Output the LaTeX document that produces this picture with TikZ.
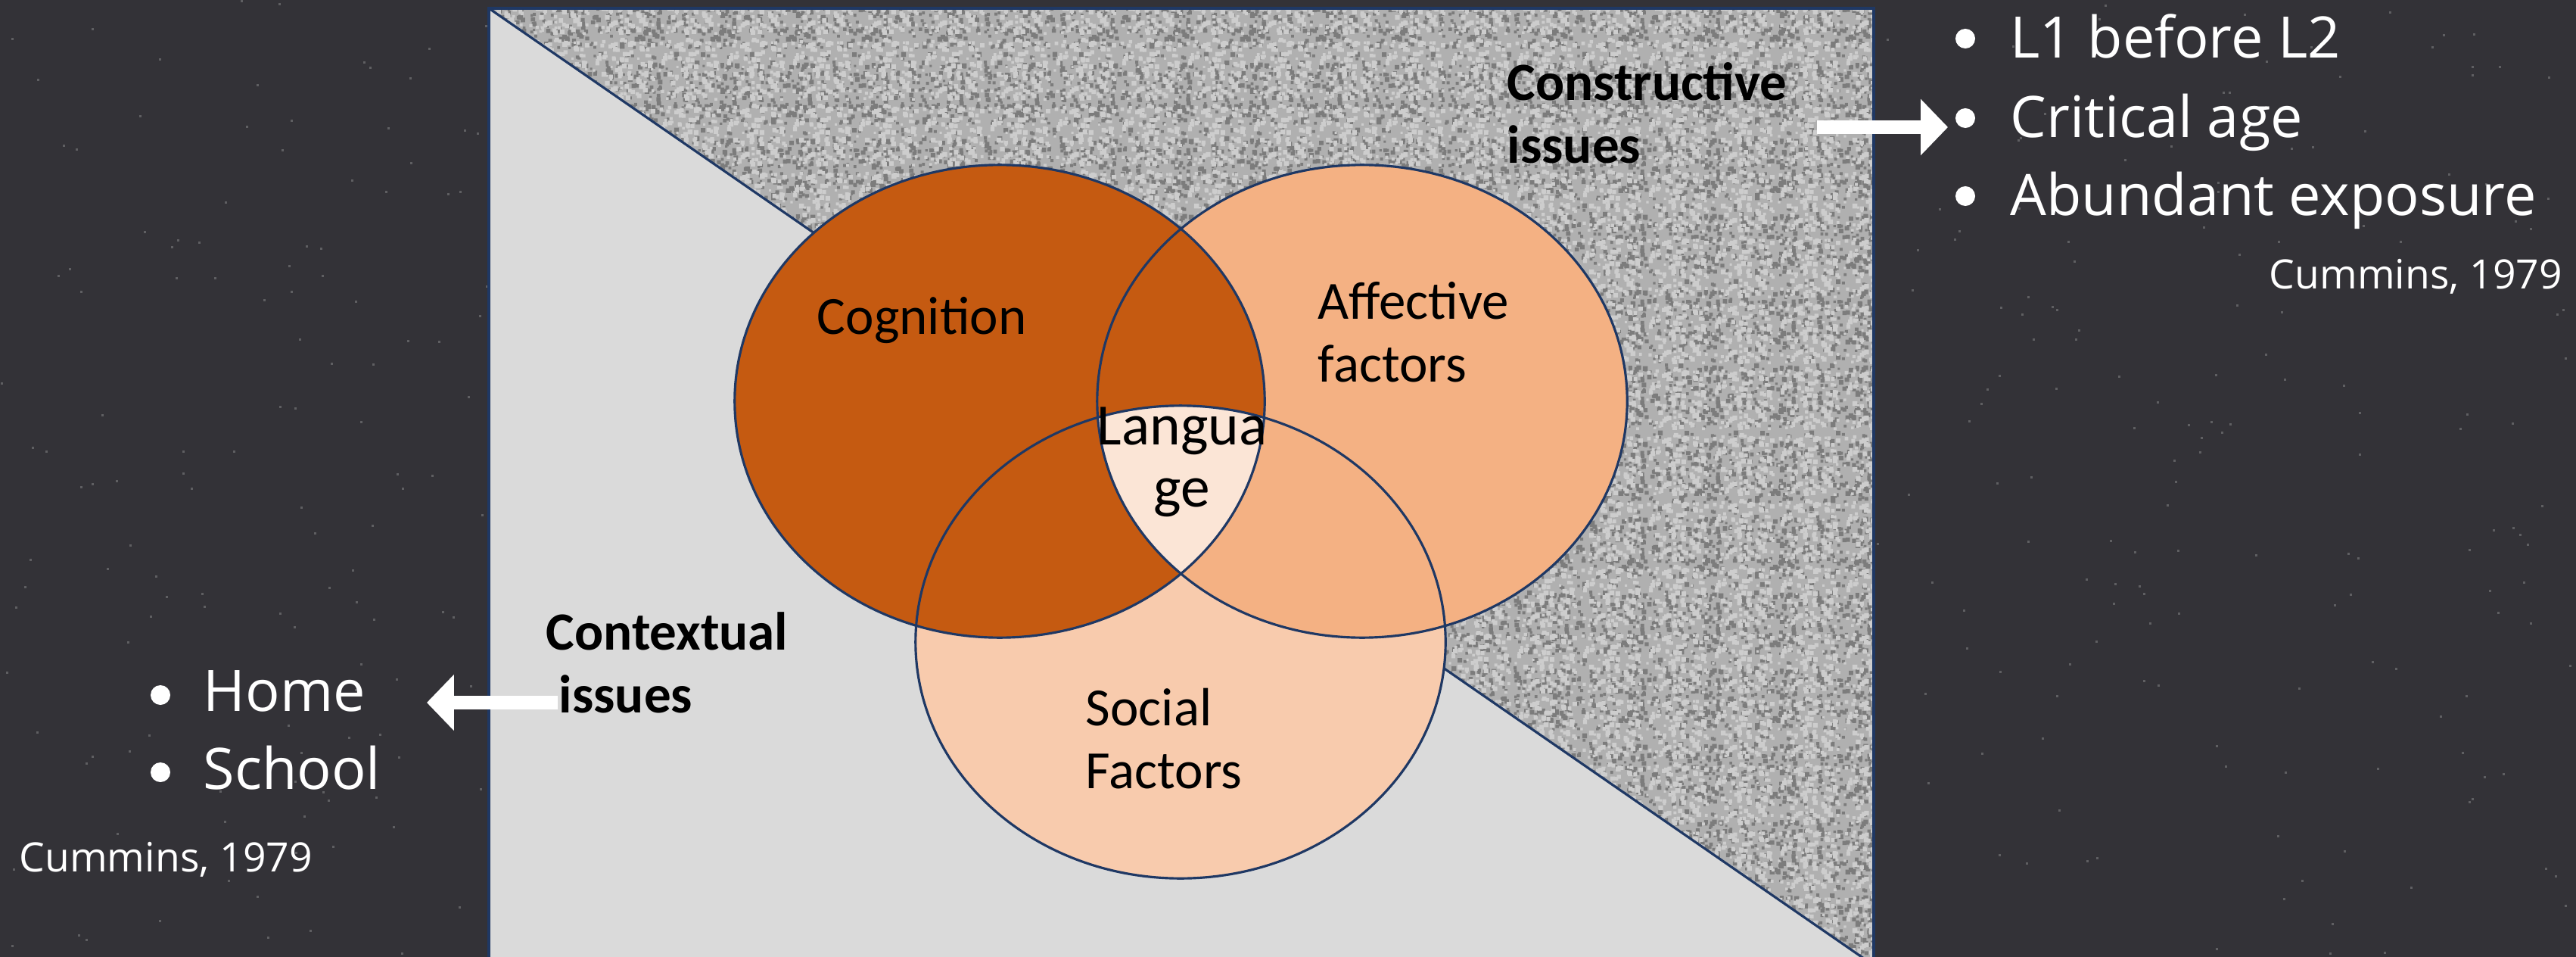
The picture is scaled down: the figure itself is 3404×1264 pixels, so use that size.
\documentclass[tikz,border=0pt]{standalone}
\usepackage{fontspec}
\setmainfont{Open Sans}
\newfontfamily\calfont{Carlito}
\usetikzlibrary{arrows.meta,patterns}
\definecolor{board}{HTML}{333237}
\definecolor{navy}{HTML}{1F3864}
\definecolor{lightgrey}{HTML}{DADADA}
\definecolor{noisebase}{HTML}{B0B0B0}
\definecolor{specdark}{HTML}{7C7C7C}
\definecolor{speclight}{HTML}{CDCDCD}
\definecolor{cogcol}{HTML}{C55A11}
\definecolor{affcol}{HTML}{F4B183}
\definecolor{soccol}{HTML}{F8CBAD}
\definecolor{langcol}{HTML}{FBE5D6}
\pgfdeclarepatternformonly{noisedark}{\pgfqpoint{0pt}{0pt}}{\pgfqpoint{28.45pt}{28.45pt}}{\pgfqpoint{28.45pt}{28.45pt}}{%
  \pgfmathsetseed{11}%
  \foreach \k in {1,...,130}{%
    \pgfmathsetmacro\qx{26.5*rnd}%
    \pgfmathsetmacro\qy{26.5*rnd}%
    \pgfmathsetmacro\qs{0.85+1.0*rnd}%
    \pgfpathrectangle{\pgfpoint{\qx pt}{\qy pt}}{\pgfpoint{\qs pt}{\qs pt}}%
    \pgfusepath{fill}%
  }%
}
\pgfdeclarepatternformonly{noiselight}{\pgfqpoint{0pt}{0pt}}{\pgfqpoint{24.75pt}{24.75pt}}{\pgfqpoint{24.75pt}{24.75pt}}{%
  \pgfmathsetseed{29}%
  \foreach \k in {1,...,100}{%
    \pgfmathsetmacro\qx{22.8*rnd}%
    \pgfmathsetmacro\qy{22.8*rnd}%
    \pgfmathsetmacro\qs{0.85+1.0*rnd}%
    \pgfpathrectangle{\pgfpoint{\qx pt}{\qy pt}}{\pgfpoint{\qs pt}{\qs pt}}%
    \pgfusepath{fill}%
  }%
}
\begin{document}
\begin{tikzpicture}[x=0.01cm,y=-0.01cm,
  lbl/.style={inner sep=0pt, anchor=base west, text=black, font=\calfont\fontsize{20.2}{24}\selectfont},
  blbl/.style={inner sep=0pt, anchor=base west, text=black, font=\calfont\bfseries\fontsize{20.2}{24}\selectfont},
  langlbl/.style={inner sep=0pt, anchor=base, text=black, font=\calfont\fontsize{22}{26}\selectfont},
  wtxt/.style={inner sep=0pt, anchor=base west, text=white, font=\fontsize{21.5}{26}\selectfont},
  cite/.style={inner sep=0pt, anchor=base west, text=white, font=\fontsize{15.2}{18}\selectfont},
  bul/.style={circle, fill=white, inner sep=0pt, minimum size=0.26cm},
  blockarrow/.style={draw=white, line width=5.12pt, -{Triangle[width=20.5pt,length=10.2pt]}},
  outl/.style={draw=navy, line width=0.9pt},
  venn/.style={x radius=3.5cm, y radius=3.12cm}
]
\useasboundingbox (0,0) rectangle (3404,1264);
\clip (0,0) rectangle (3404,1264);
\fill[board] (0,0) rectangle (3404,1264);

% faint chalk dust on the board
\pgfmathsetseed{77}
\foreach \i in {1,...,600}{
  \pgfmathsetmacro\px{3404*rnd}
  \pgfmathsetmacro\py{1264*rnd}
  \fill[white, fill opacity=0.22] (\px,\py) rectangle ++(3,3);
}

% frame: lower-left light triangle
\fill[lightgrey] (646,11) -- (646,1290) -- (2476,1290) -- (2476,1275) -- cycle;
% upper-right textured triangle
\fill[noisebase] (646,11) -- (2476,11) -- (2476,1275) -- cycle;
\fill[pattern=noisedark, pattern color=specdark] (646,11) -- (2476,11) -- (2476,1275) -- cycle;
\fill[pattern=noiselight, pattern color=speclight] (646,11) -- (2476,11) -- (2476,1275) -- cycle;
\draw[outl] (646,11) rectangle (2476,1300);
\draw[outl] (646,11) -- (2476,1275);

% Venn circles
\fill[soccol] (1560,848) ellipse [venn];
\fill[affcol] (1800,530) ellipse [venn];
\fill[cogcol] (1321,530) ellipse [venn];
\begin{scope}
  \clip (1321,530) ellipse [venn];
  \clip (1800,530) ellipse [venn];
  \fill[langcol] (1560,848) ellipse [venn];
\end{scope}
\draw[outl] (1560,848) ellipse [venn];
\draw[outl] (1800,530) ellipse [venn];
\draw[outl] (1321,530) ellipse [venn];

% diagram labels
\node[lbl] (cog) at (1079,442) {Cognition};
\node[lbl] (aff1) at (1741,421) {Affective};
\node[lbl] (aff2) at (1741,504) {factors};
\node[lbl] (soc1) at (1434,958) {Social};
\node[lbl] (soc2) at (1434,1041) {Factors};
\node[langlbl] (lang1) at (1562,587) {Langua};
\node[langlbl] (lang2) at (1562,669) {ge};
\node[blbl] (cons1) at (1991,133) {Constructive};
\node[blbl] (cons2) at (1991,216) {issues};
\node[blbl] (cont1) at (721,858) {Contextual};
\node[blbl] (cont2) at (738,941) {issues};

% right list
\node[bul] (b1) at (2597,51) {};
\node[wtxt] (r1) at (2656,77) {L1 before L2};
\node[bul] (b2) at (2597,156) {};
\node[wtxt] (r2) at (2656,182) {Critical age};
\node[bul] (b3) at (2597,259) {};
\node[wtxt] (r3) at (2656,285) {Abundant exposure};
\node[cite] (rc) at (2998,382) {Cummins, 1979};

% left list
\node[bul] (lb1) at (212,918) {};
\node[wtxt] (l1) at (268,939) {Home};
\node[bul] (lb2) at (212,1020) {};
\node[wtxt] (l2) at (268,1042) {School};
\node[cite] (lc) at (25,1151) {Cummins, 1979};

% arrows
\coordinate (ra0) at (2401,168);
\coordinate (ra1) at (2574,168);
\draw[blockarrow] (ra0) -- (ra1);
\coordinate (la0) at (737,928);
\coordinate (la1) at (564,928);
\draw[blockarrow] (la0) -- (la1);
\end{tikzpicture}
\end{document}
